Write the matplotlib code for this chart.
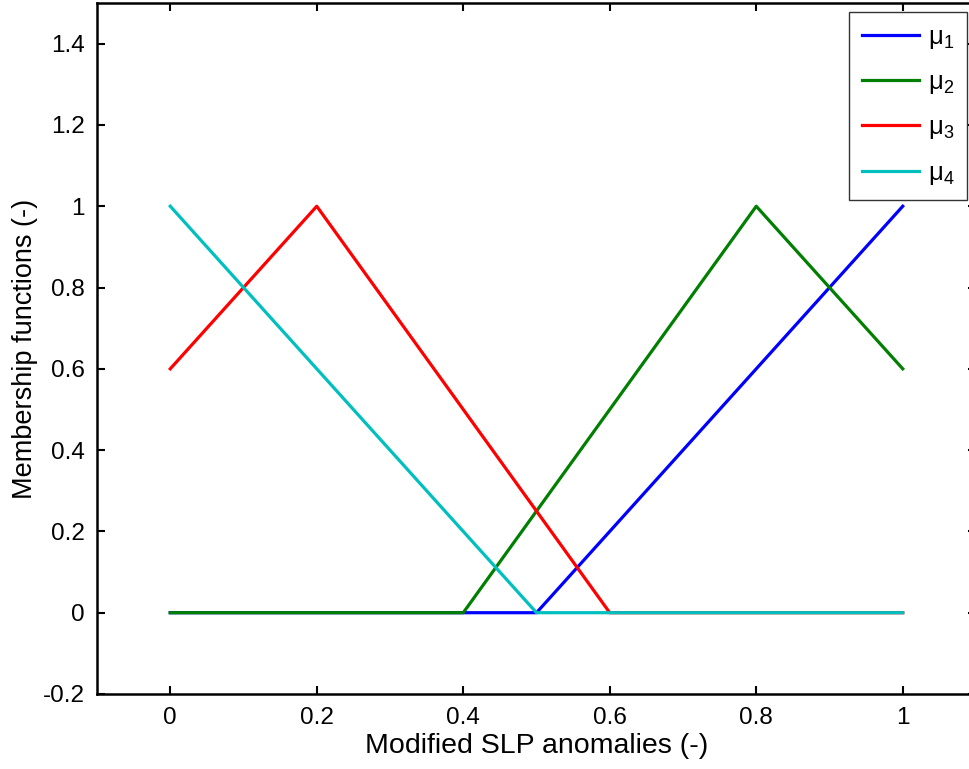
import matplotlib
matplotlib.use("Agg")
import matplotlib.pyplot as plt

plt.rcParams['font.family'] = ['Liberation Sans', 'DejaVu Sans']
plt.rcParams['mathtext.default'] = 'regular'

x1 = [0, 0.5, 1]
mu1 = [0, 0, 1]
x2 = [0, 0.4, 0.8, 1]
mu2 = [0, 0, 1, 0.6]
x3 = [0, 0.2, 0.6, 1]
mu3 = [0.6, 1, 0, 0]
x4 = [0, 0.5, 1]
mu4 = [1, 0, 0]

labels = ['μ$_1$', 'μ$_2$', 'μ$_3$', 'μ$_4$']
colors = ['#0000ff', '#007f00', '#ff0000', '#00bfbf']

xticks = [0, 0.2, 0.4, 0.6, 0.8, 1]
xticklabels = ['0', '0.2', '0.4', '0.6', '0.8', '1']
yticks = [-0.2, 0, 0.2, 0.4, 0.6, 0.8, 1, 1.2, 1.4]
yticklabels = ['-0.2', '0', '0.2', '0.4', '0.6', '0.8', '1', '1.2', '1.4']

fig = plt.figure(figsize=(9.69, 7.69), dpi=100)
ax = fig.add_axes([97/969, 1 - 694/769, (976 - 97)/969, (694 - 3)/769])

for xs, ys, lab, c in zip([x1, x2, x3, x4], [mu1, mu2, mu3, mu4], labels, colors):
    ax.plot(xs, ys, color=c, lw=2.3, label=lab)

ax.set_xlim(-0.1, 1.1)
ax.set_ylim(-0.2, 1.5)
ax.set_xticks(xticks)
ax.set_xticklabels(xticklabels)
ax.set_yticks(yticks)
ax.set_yticklabels(yticklabels)
ax.tick_params(direction='in', top=True, right=True, length=6, width=1.5, labelsize=17.5, pad=9)
for s in ax.spines.values():
    s.set_linewidth(1.8)
ax.set_xlabel('Modified SLP anomalies (-)', fontsize=20.5, labelpad=3)
ax.set_ylabel('Membership functions (-)', fontsize=19.5, labelpad=3)

leg = ax.legend(loc='upper right', bbox_to_anchor=(967/969, 1 - 12/769), bbox_transform=fig.transFigure,
                fontsize=18.5, handlelength=2.2, labelspacing=0.75, fancybox=False, framealpha=1,
                edgecolor='#333333', borderpad=0.5, handletextpad=0.35, borderaxespad=0)
leg.get_frame().set_linewidth(1.0)

fig.savefig('out.png', dpi=100)
